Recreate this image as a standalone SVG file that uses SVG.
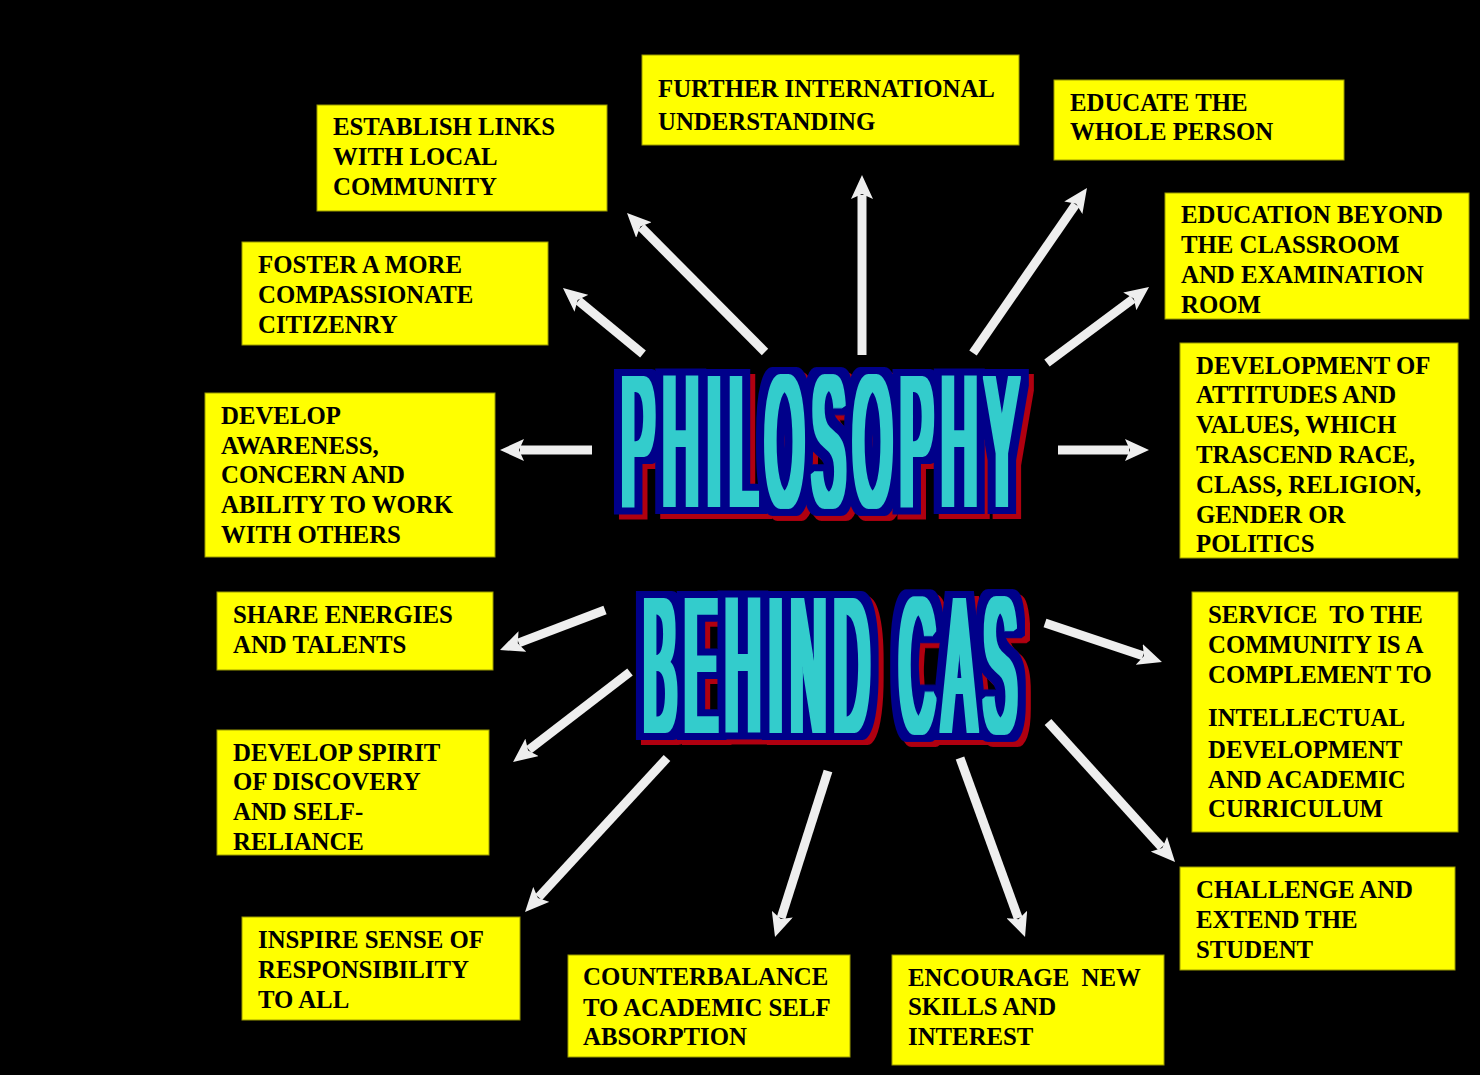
<svg xmlns="http://www.w3.org/2000/svg" width="1480" height="1075" viewBox="0 0 1480 1075">
<style>
.box{fill:#ffff00;stroke:#9a9a00;stroke-width:1}
.lbl{font-weight:bold;font-size:24.8px;fill:#000;white-space:pre}
.arr{stroke:#eeeeee;stroke-width:9;fill:none;marker-end:url(#ah)}
.ttl{font-family:"Liberation Sans",Arial,sans-serif;font-weight:normal;fill:#000;letter-spacing:35px}
</style>
<defs>
<marker id="ah" markerUnits="userSpaceOnUse" markerWidth="24" markerHeight="22" viewBox="0 0 24 22" refX="4" refY="11" orient="auto">
<path d="M0,0 L24,11 L0,22 L5,11 Z" fill="#eeeeee"/>
</marker>
<filter id="wordart" filterUnits="userSpaceOnUse" x="560" y="320" width="540" height="460" color-interpolation-filters="sRGB">
<feMorphology in="SourceAlpha" operator="dilate" radius="4 1" result="core"/>
<feMorphology in="SourceAlpha" operator="dilate" radius="12 8" result="edge"/>
<feOffset in="edge" dx="5" dy="5" result="shadowA"/>
<feFlood flood-color="#b00010" result="red"/>
<feComposite in="red" in2="shadowA" operator="in" result="shadow"/>
<feFlood flood-color="#00008a" result="navy"/>
<feComposite in="navy" in2="edge" operator="in" result="outline"/>
<feFlood flood-color="#33cccc" result="cyan"/>
<feComposite in="cyan" in2="core" operator="in" result="face"/>
<feMerge><feMergeNode in="shadow"/><feMergeNode in="outline"/><feMergeNode in="face"/></feMerge>
</filter>
</defs>
<rect x="0" y="0" width="1480" height="1075" fill="#000"/>

<g id="connectors">
<line class="arr" x1="862" y1="355" x2="862" y2="195"/>
<line class="arr" x1="973" y1="353" x2="1075.6" y2="204.5"/>
<line class="arr" x1="1047" y1="363" x2="1133" y2="299"/>
<line class="arr" x1="765" y1="352" x2="641.1" y2="227.2"/>
<line class="arr" x1="643" y1="354" x2="578.4" y2="300.7"/>
<line class="arr" x1="592" y1="450" x2="520" y2="450"/>
<line class="arr" x1="605" y1="610" x2="518.7" y2="642.9"/>
<line class="arr" x1="630" y1="672" x2="528.9" y2="749.8"/>
<line class="arr" x1="667" y1="758" x2="538.6" y2="897.3"/>
<line class="arr" x1="828" y1="771" x2="781.1" y2="918"/>
<line class="arr" x1="960" y1="758" x2="1018.2" y2="918.2"/>
<line class="arr" x1="1048" y1="722" x2="1161.6" y2="847.2"/>
<line class="arr" x1="1045" y1="623" x2="1143" y2="655.7"/>
<line class="arr" x1="1058" y1="450" x2="1129" y2="450"/>
</g>

<g id="title" filter="url(#wordart)">
<text class="ttl" transform="translate(622,506) scale(0.2576,1)" x="0" y="0" font-size="188">PHILOSOPHY</text>
<text class="ttl" transform="translate(644,732) scale(0.2489,1)" x="0" y="0" font-size="193">BEHIND CAS</text>
</g>

<g font-family="Liberation Serif, Times New Roman, DejaVu Serif, serif">
<g id="n-establish">
<rect class="box" x="317" y="105" width="290" height="106"/>
<text class="lbl" x="333" y="135">ESTABLISH LINKS</text>
<text class="lbl" x="333" y="165">WITH LOCAL</text>
<text class="lbl" x="333" y="195">COMMUNITY</text>
</g>
<g id="n-further">
<rect class="box" x="642" y="55" width="377" height="90"/>
<text class="lbl" x="658" y="97">FURTHER INTERNATIONAL</text>
<text class="lbl" x="658" y="130">UNDERSTANDING</text>
</g>
<g id="n-educate">
<rect class="box" x="1054" y="80" width="290" height="80"/>
<text class="lbl" x="1070" y="111">EDUCATE THE</text>
<text class="lbl" x="1070" y="140">WHOLE PERSON</text>
</g>
<g id="n-beyond">
<rect class="box" x="1165" y="193" width="304" height="126"/>
<text class="lbl" x="1181" y="223">EDUCATION BEYOND</text>
<text class="lbl" x="1181" y="253">THE CLASSROOM</text>
<text class="lbl" x="1181" y="283">AND EXAMINATION</text>
<text class="lbl" x="1181" y="313">ROOM</text>
</g>
<g id="n-foster">
<rect class="box" x="242" y="242" width="306" height="103"/>
<text class="lbl" x="258" y="273">FOSTER A MORE</text>
<text class="lbl" x="258" y="303">COMPASSIONATE</text>
<text class="lbl" x="258" y="333">CITIZENRY</text>
</g>
<g id="n-awareness">
<rect class="box" x="205" y="393" width="290" height="164"/>
<text class="lbl" x="221" y="424">DEVELOP</text>
<text class="lbl" x="221" y="454">AWARENESS,</text>
<text class="lbl" x="221" y="483">CONCERN AND</text>
<text class="lbl" x="221" y="513">ABILITY TO WORK</text>
<text class="lbl" x="221" y="543">WITH OTHERS</text>
</g>
<g id="n-attitudes">
<rect class="box" x="1180" y="343" width="278" height="215"/>
<text class="lbl" x="1196" y="374">DEVELOPMENT OF</text>
<text class="lbl" x="1196" y="403">ATTITUDES AND</text>
<text class="lbl" x="1196" y="433">VALUES, WHICH</text>
<text class="lbl" x="1196" y="463">TRASCEND RACE,</text>
<text class="lbl" x="1196" y="493">CLASS, RELIGION,</text>
<text class="lbl" x="1196" y="523">GENDER OR</text>
<text class="lbl" x="1196" y="552">POLITICS</text>
</g>
<g id="n-share">
<rect class="box" x="217" y="592" width="276" height="78"/>
<text class="lbl" x="233" y="623">SHARE ENERGIES</text>
<text class="lbl" x="233" y="653">AND TALENTS</text>
</g>
<g id="n-service">
<rect class="box" x="1192" y="592" width="266" height="240"/>
<text class="lbl" x="1208" y="623">SERVICE  TO THE</text>
<text class="lbl" x="1208" y="653">COMMUNITY IS A</text>
<text class="lbl" x="1208" y="683">COMPLEMENT TO</text>
<text class="lbl" x="1208" y="726">INTELLECTUAL</text>
<text class="lbl" x="1208" y="758">DEVELOPMENT</text>
<text class="lbl" x="1208" y="788">AND ACADEMIC</text>
<text class="lbl" x="1208" y="817">CURRICULUM</text>
</g>
<g id="n-spirit">
<rect class="box" x="217" y="730" width="272" height="125"/>
<text class="lbl" x="233" y="761">DEVELOP SPIRIT</text>
<text class="lbl" x="233" y="790">OF DISCOVERY</text>
<text class="lbl" x="233" y="820">AND SELF-</text>
<text class="lbl" x="233" y="850">RELIANCE</text>
</g>
<g id="n-inspire">
<rect class="box" x="242" y="917" width="278" height="103"/>
<text class="lbl" x="258" y="948">INSPIRE SENSE OF</text>
<text class="lbl" x="258" y="978">RESPONSIBILITY</text>
<text class="lbl" x="258" y="1008">TO ALL</text>
</g>
<g id="n-counter">
<rect class="box" x="568" y="955" width="282" height="102"/>
<text class="lbl" x="583" y="985">COUNTERBALANCE</text>
<text class="lbl" x="583" y="1016">TO ACADEMIC SELF</text>
<text class="lbl" x="583" y="1045">ABSORPTION</text>
</g>
<g id="n-encourage">
<rect class="box" x="892" y="955" width="272" height="110"/>
<text class="lbl" x="908" y="986">ENCOURAGE  NEW</text>
<text class="lbl" x="908" y="1015">SKILLS AND</text>
<text class="lbl" x="908" y="1045">INTEREST</text>
</g>
<g id="n-challenge">
<rect class="box" x="1180" y="867" width="275" height="103"/>
<text class="lbl" x="1196" y="898">CHALLENGE AND</text>
<text class="lbl" x="1196" y="928">EXTEND THE</text>
<text class="lbl" x="1196" y="958">STUDENT</text>
</g>
</g>
</svg>
